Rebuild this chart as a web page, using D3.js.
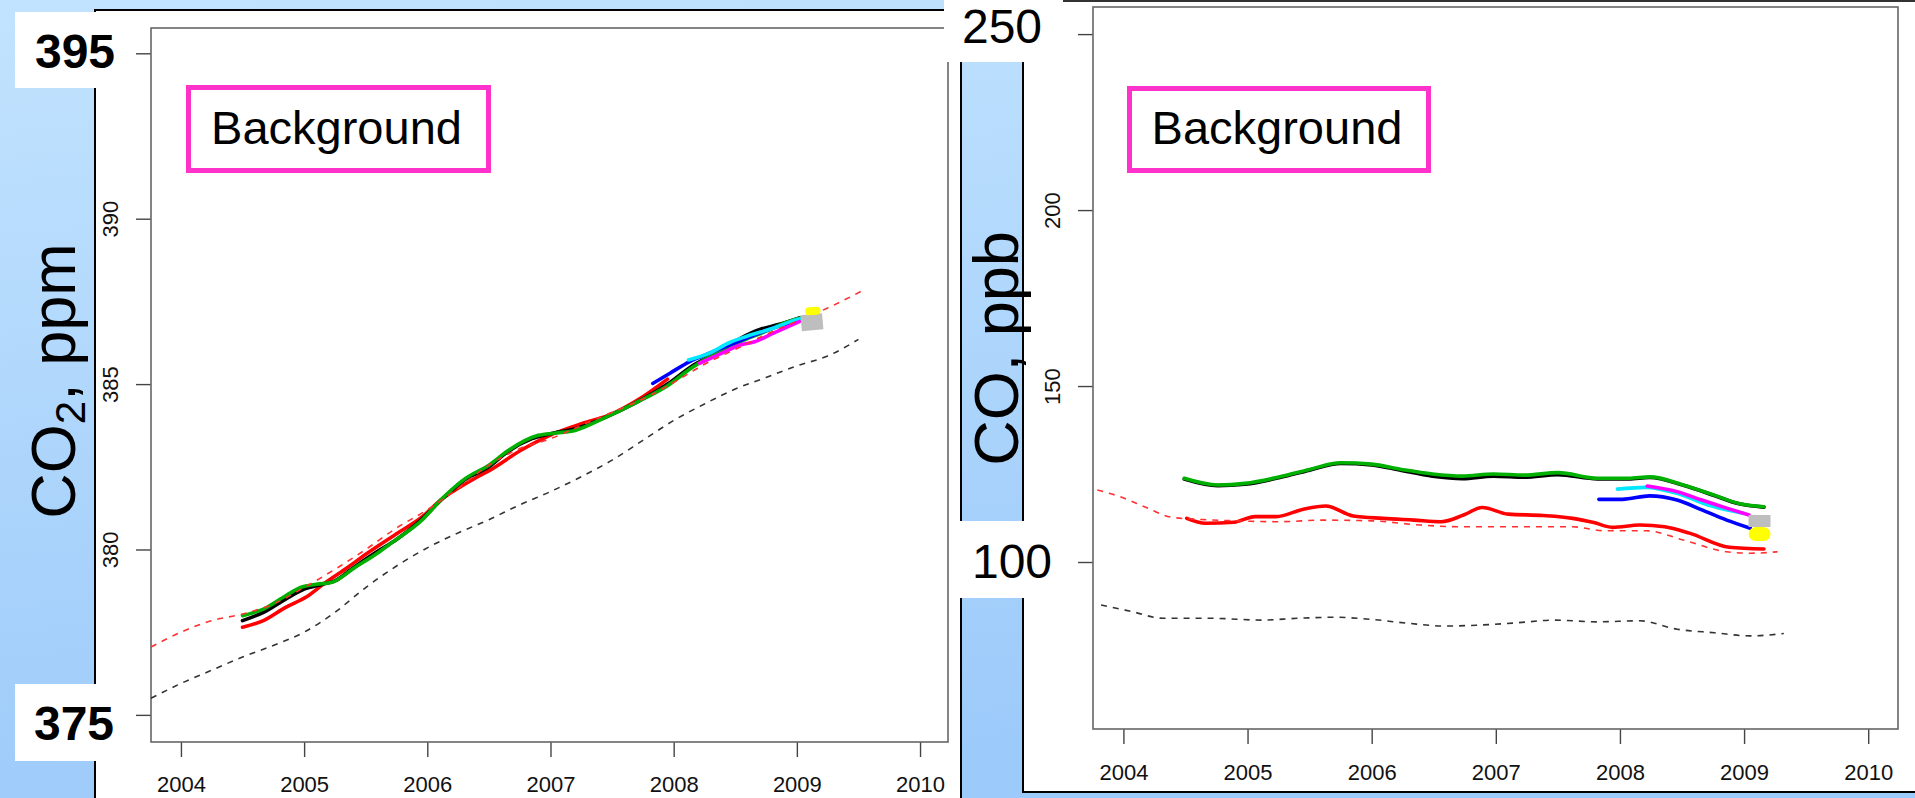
<!DOCTYPE html>
<html><head><meta charset="utf-8">
<script src="https://cdn.jsdelivr.net/npm/d3@7"></script>
<style>html,body{margin:0;padding:0;overflow:hidden;background:#b4d8fc}</style>
</head><body>
<svg id="c" width="1915" height="798"></svg>
<script>
// ---------------- DATA ----------------
const yearTicks = [2004, 2005, 2006, 2007, 2008, 2009, 2010];
const co2Ticks = [375, 380, 385, 390, 395];
const co2BigTicks = [395, 375];
const coTicks = [100, 150, 200, 250];
const coBigTicks = [250, 100];
const panelLabel = "Background";

// CO2 (ppm) series: [decimal year, value]
const co2Red = [[2004.5,377.65],[2004.67,377.85],[2004.85,378.25],[2005.02,378.57],[2005.17,378.99],[2005.35,379.45],[2005.51,379.88],[2005.76,380.5],[2005.96,380.99],[2006.11,381.5],[2006.25,381.85],[2006.41,382.2],[2006.51,382.4],[2006.76,383.0],[2007.0,383.46],[2007.25,383.8],[2007.5,384.1],[2007.7,384.5],[2007.95,385.15]];
const co2Black = [[2004.5,377.85],[2004.67,378.1],[2004.85,378.5],[2005.0,378.8],[2005.15,378.95],[2005.25,379.05],[2005.4,379.45],[2005.6,379.95],[2005.75,380.3],[2005.95,380.9],[2006.1,381.45],[2006.3,382.1],[2006.5,382.5],[2006.65,382.95],[2006.85,383.35],[2007.0,383.5],[2007.2,383.65],[2007.45,384.0],[2007.7,384.45],[2007.95,385.0],[2008.15,385.55],[2008.35,385.95],[2008.55,386.4],[2008.7,386.65],[2008.85,386.8],[2009.02,387.0]];
const co2Green = [[2004.5,378.0],[2004.67,378.2],[2004.85,378.6],[2004.97,378.85],[2005.1,378.95],[2005.22,379.0],[2005.41,379.45],[2005.6,379.9],[2005.71,380.2],[2005.96,380.9],[2006.11,381.5],[2006.31,382.15],[2006.5,382.55],[2006.66,383.0],[2006.9,383.45],[2007.05,383.52],[2007.2,383.6],[2007.45,384.0],[2007.7,384.45],[2007.95,384.95],[2008.15,385.5],[2008.35,385.95],[2008.55,386.3],[2008.75,386.6],[2008.9,386.85],[2009.03,387.0]];
const co2Blue = [[2007.83,385.02],[2007.97,385.33],[2008.13,385.68],[2008.3,385.95],[2008.5,386.25],[2008.7,386.55],[2008.85,386.75],[2009.0,386.9]];
const co2Cyan = [[2008.12,385.73],[2008.3,385.95],[2008.45,386.25],[2008.59,386.44],[2008.8,386.68],[2009.0,386.95],[2009.05,387.0]];
const co2Magenta = [[2008.21,385.63],[2008.4,385.95],[2008.54,386.18],[2008.65,386.27],[2008.81,386.54],[2009.02,386.89]];
const co2RedDash = [[2003.757,377.05],[2004.0,377.5],[2004.25,377.85],[2004.5,378.05],[2004.75,378.35],[2005.0,378.85],[2005.25,379.4],[2005.5,380.0],[2005.75,380.65],[2006.0,381.2],[2006.25,381.85],[2006.5,382.55],[2006.75,383.05],[2007.0,383.35],[2007.25,383.75],[2007.5,384.15],[2007.75,384.55],[2008.0,385.05],[2008.25,385.6],[2008.5,386.05],[2008.75,386.5],[2009.0,386.9],[2009.25,387.3],[2009.52,387.8]];
const co2BlackDash = [[2003.757,375.5],[2004.0,375.95],[2004.25,376.35],[2004.5,376.75],[2004.75,377.1],[2005.0,377.5],[2005.25,378.1],[2005.5,378.85],[2005.75,379.5],[2006.0,380.05],[2006.25,380.5],[2006.5,380.9],[2006.75,381.35],[2007.0,381.75],[2007.25,382.2],[2007.5,382.7],[2007.75,383.3],[2008.0,383.9],[2008.25,384.4],[2008.5,384.85],[2008.75,385.2],[2009.0,385.55],[2009.25,385.85],[2009.5,386.35]];
const co2Gray = [[2009.035,386.84],[2009.21,386.9]];
const co2Yellow = [[2009.1,387.2],[2009.16,387.22]];

// CO (ppb) series
const coRed = [[2004.51,112.4],[2004.66,111.0],[2004.89,111.3],[2005.06,112.9],[2005.23,112.9],[2005.45,115.0],[2005.63,115.9],[2005.85,113.1],[2006.09,112.4],[2006.34,111.9],[2006.56,111.45],[2006.74,113.35],[2006.89,115.5],[2007.1,113.6],[2007.38,113.2],[2007.62,112.4],[2007.79,111.2],[2007.94,109.85],[2008.16,110.5],[2008.36,110.0],[2008.56,108.2],[2008.88,104.2],[2009.16,103.7]];
const coBlack = [[2004.49,123.6],[2004.76,121.7],[2004.98,122.1],[2005.26,124.0],[2005.5,126.1],[2005.75,128.0],[2006.0,127.6],[2006.24,126.0],[2006.49,124.4],[2006.73,123.7],[2006.98,124.4],[2007.23,124.1],[2007.5,124.8],[2007.82,123.6],[2008.07,123.6],[2008.24,124.0],[2008.51,121.8],[2008.76,118.9],[2008.95,116.6],[2009.16,115.6]];
const coGreen = [[2004.49,123.8],[2004.76,121.9],[2004.98,122.35],[2005.26,124.2],[2005.5,126.3],[2005.75,128.2],[2006.0,127.8],[2006.24,126.3],[2006.49,125.0],[2006.73,124.4],[2006.98,125.0],[2007.23,124.7],[2007.5,125.4],[2007.82,123.8],[2008.07,123.8],[2008.24,124.2],[2008.51,121.9],[2008.76,119.0],[2008.95,116.7],[2009.16,115.7]];
const coBlue = [[2007.83,117.8],[2008.02,117.8],[2008.24,118.8],[2008.46,117.6],[2008.66,114.8],[2008.86,111.9],[2009.05,109.6]];
const coCyan = [[2007.98,120.7],[2008.21,121.2],[2008.46,119.5],[2008.71,116.2],[2009.0,113.8]];
const coMagenta = [[2008.22,121.6],[2008.46,120.0],[2008.66,117.6],[2008.86,115.3],[2009.04,113.35]];
const coRedDash = [[2003.79,120.45],[2003.97,118.6],[2004.17,115.7],[2004.39,112.7],[2004.62,112.1],[2004.91,111.7],[2005.26,111.45],[2005.6,111.9],[2006.0,111.7],[2006.39,110.5],[2006.74,110.0],[2007.18,110.0],[2007.62,110.0],[2007.87,108.9],[2008.21,108.9],[2008.51,106.25],[2008.86,102.9],[2009.05,102.5],[2009.27,102.9]];
const coBlackDash = [[2003.82,87.8],[2004.07,85.9],[2004.32,84.0],[2004.71,84.0],[2005.11,83.5],[2005.4,84.0],[2005.7,84.3],[2006.0,83.7],[2006.29,82.6],[2006.59,81.8],[2006.88,82.1],[2007.18,82.75],[2007.47,83.5],[2007.82,83.0],[2008.16,83.3],[2008.46,80.9],[2008.76,79.9],[2009.05,79.0],[2009.32,79.7]];
const coGray = [[2009.036,111.65],[2009.213,111.65]];
const coYellow = [[2009.093,107.95],[2009.157,107.95]];

// ---------------- DRAWING ----------------
const FONT = "'Liberation Sans', Arial, Helvetica, sans-serif";
const svg = d3.select("#c");
const defs = svg.append("defs");
const g0 = defs.append("linearGradient").attr("id","bg").attr("x1",0).attr("y1",0).attr("x2",0.25).attr("y2",1);
g0.append("stop").attr("offset",0).attr("stop-color","#c2e3fe");
g0.append("stop").attr("offset",1).attr("stop-color","#9ccafa");
svg.append("rect").attr("width",1915).attr("height",798).attr("fill","url(#bg)");

// slide panels
svg.append("rect").attr("x",95).attr("y",10).attr("width",866).attr("height",800).attr("fill","#fff");
svg.append("path").attr("d","M95,800V10H961V800").attr("fill","none").attr("stroke","#000").attr("stroke-width",2);
svg.append("rect").attr("x",1023).attr("y",1).attr("width",900).attr("height",791).attr("fill","#fff");
svg.append("path").attr("d","M1023,1H1915").attr("fill","none").attr("stroke","#333").attr("stroke-width",2);
svg.append("path").attr("d","M1023,1V792H1915").attr("fill","none").attr("stroke","#000").attr("stroke-width",2);

function drawPanel(cfg) {
  const x = d3.scaleLinear().domain(cfg.xDomain).range([cfg.left, cfg.right]);
  const y = d3.scaleLinear().domain(cfg.yDomain).range([cfg.bottom, cfg.top]);
  const g = svg.append("g");
  // x axis
  const xa = g.append("g").attr("transform", `translate(0,${cfg.bottom})`)
    .call(d3.axisBottom(x).tickValues(yearTicks).tickSize(15).tickFormat(d3.format("d")));
  xa.select(".domain").remove();
  xa.selectAll("line").attr("stroke","#444").attr("stroke-width",1.4);
  xa.selectAll("text").attr("y", cfg.xLabelBase - cfg.bottom).attr("dy", null)
    .attr("font-family", FONT).attr("font-size", 22).attr("fill","#111");
  // y axis
  const ya = g.append("g").attr("transform", `translate(${cfg.left},0)`)
    .call(d3.axisLeft(y).tickValues(cfg.yTicks).tickSize(15)
      .tickFormat(v => cfg.bigTicks.includes(v) ? "" : d3.format("d")(v)));
  ya.select(".domain").remove();
  ya.selectAll("line").attr("stroke","#444").attr("stroke-width",1.4);
  ya.selectAll("text").attr("x", null).attr("dy", null).attr("text-anchor","middle")
    .attr("transform", `translate(${cfg.yLabelBase - cfg.left},0) rotate(-90)`)
    .attr("font-family", FONT).attr("font-size", 22).attr("fill","#111");
  // box
  g.append("rect").attr("x",cfg.left).attr("y",cfg.top).attr("width",cfg.right-cfg.left).attr("height",cfg.bottom-cfg.top)
    .attr("fill","none").attr("stroke","#666").attr("stroke-width",1.6);

  const line = d3.line().x(d => x(d[0])).y(d => y(d[1])).curve(d3.curveMonotoneX);
  const solid = [["#ff0000", cfg.s.red], ["#000000", cfg.s.black], ["#00b000", cfg.s.green],
                 ["#0000ff", cfg.s.blue], ["#00e8ff", cfg.s.cyan], ["#ff00ff", cfg.s.magenta]];
  solid.forEach(([c, d]) => g.append("path").datum(d).attr("d", line).attr("fill","none")
    .attr("stroke", c).attr("stroke-width", 3.6).attr("stroke-linejoin","round").attr("stroke-linecap","round"));
  [["#ff3030", cfg.s.redDash], ["#333333", cfg.s.blackDash]].forEach(([c, d]) =>
    g.append("path").datum(d).attr("d", line).attr("fill","none").attr("stroke", c)
      .attr("stroke-width", 1.6).attr("stroke-dasharray","6,6"));
  const straight = d3.line().x(d => x(d[0])).y(d => y(d[1]));
  g.append("path").datum(cfg.s.gray).attr("d", straight).attr("fill","none").attr("stroke","#bebebe")
    .attr("stroke-width", cfg.grayW).attr("stroke-linecap","butt");
  g.append("path").datum(cfg.s.yellow).attr("d", straight).attr("fill","none").attr("stroke","#ffff00")
    .attr("stroke-width", cfg.yellowW).attr("stroke-linecap","round");

  // label box
  g.append("rect").attr("x", cfg.lbl[0]).attr("y", cfg.lbl[1]).attr("width", cfg.lbl[2]).attr("height", cfg.lbl[3])
    .attr("fill","#fff").attr("stroke","#ff33cc").attr("stroke-width",5);
  g.append("text").attr("x", cfg.lbl[0] + cfg.lbl[2]/2 - 2).attr("y", 144).attr("text-anchor","middle")
    .attr("font-family", FONT).attr("font-size", 47).attr("fill","#000").text(panelLabel);
  return {x, y};
}

drawPanel({
  left:151, right:948, top:28, bottom:742, xLabelBase:792, yLabelBase:118,
  xDomain:[2003.757, 2010.227], yDomain:[374.18, 395.765], yTicks: co2Ticks, bigTicks: co2BigTicks,
  s:{red:co2Red, black:co2Black, green:co2Green, blue:co2Blue, cyan:co2Cyan, magenta:co2Magenta,
     redDash:co2RedDash, blackDash:co2BlackDash, gray:co2Gray, yellow:co2Yellow},
  grayW:16, yellowW:8, lbl:[188.5, 87.5, 300, 83]
});
drawPanel({
  left:1093, right:1898, top:7, bottom:729, xLabelBase:780, yLabelBase:1060,
  xDomain:[2003.755, 2010.24], yDomain:[52.55, 257.7], yTicks: coTicks, bigTicks: coBigTicks,
  s:{red:coRed, black:coBlack, green:coGreen, blue:coBlue, cyan:coCyan, magenta:coMagenta,
     redDash:coRedDash, blackDash:coBlackDash, gray:coGray, yellow:coYellow},
  grayW:12, yellowW:14, lbl:[1129.5, 88.5, 299, 82]
});

// big pasted tick labels
function bigLabel(bx, by, bw, bh, tx, ty, txt, bold) {
  svg.append("rect").attr("x",bx).attr("y",by).attr("width",bw).attr("height",bh).attr("fill","#fff");
  svg.append("text").attr("x",tx).attr("y",ty).attr("text-anchor","middle")
    .attr("font-family",FONT).attr("font-size",48).attr("font-weight", bold ? "bold" : "normal")
    .attr("fill","#000").text(txt);
}
bigLabel(15, 12, 112, 76, 75, 68, String(co2BigTicks[0]), true);
bigLabel(15, 684, 112, 77, 74, 740, String(co2BigTicks[1]), true);
bigLabel(944, 0, 119, 62, 1002, 43, String(coBigTicks[0]), false);
bigLabel(955, 521, 115, 77, 1012, 578, String(coBigTicks[1]), false);

// axis titles
const t1 = svg.append("text").attr("transform","translate(75,381) rotate(-90)").attr("text-anchor","middle")
  .attr("font-family",FONT).attr("font-size",63).attr("fill","#000");
t1.append("tspan").text("CO");
t1.append("tspan").attr("font-size",42).attr("dy",10).text("2");
t1.append("tspan").attr("dy",-10).text(", ppm");
svg.append("text").attr("transform","translate(1018,348.5) rotate(-90)").attr("text-anchor","middle")
  .attr("font-family",FONT).attr("font-size",63).attr("fill","#000").text("CO, ppb");
</script>
</body></html>
